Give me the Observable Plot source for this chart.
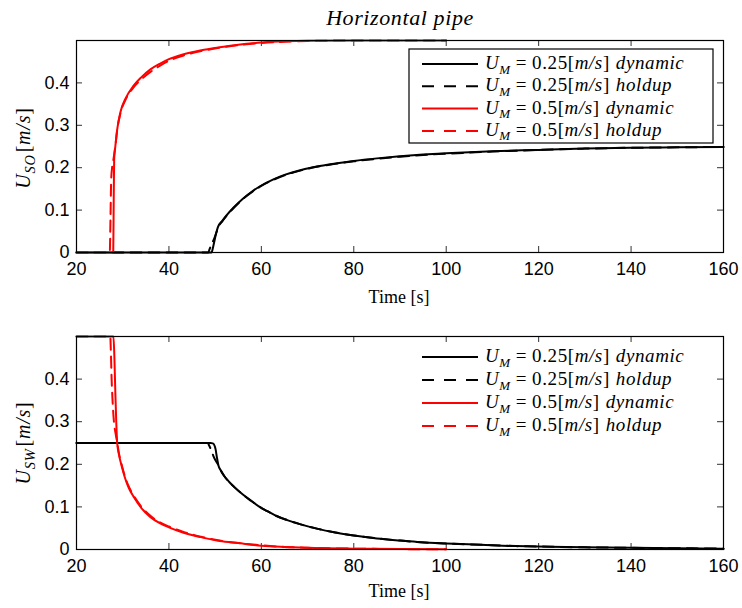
<!DOCTYPE html>
<html><head><meta charset="utf-8">
<script src="https://cdn.jsdelivr.net/npm/d3@7"></script>
<script src="https://cdn.jsdelivr.net/npm/@observablehq/plot@0.6"></script>
<style>
body{margin:0;background:#fff}
#chart{width:742px}
#chart svg{display:block}
</style>
</head><body><div id="chart"></div>
<script>
// ---- ticks ----
const xTicks = [20, 40, 60, 80, 100, 120, 140, 160];
const yTicks = [0, 0.1, 0.2, 0.3, 0.4];
const yTickLabels = ["0", "0.1", "0.2", "0.3", "0.4"];

// ---- legend ----
const legendVel = ["0.25", "0.25", "0.5", "0.5"];
const legendKind = ["dynamic", "holdup", "dynamic", "holdup"];
const legendColor = ["black", "black", "red", "red"];
const legendDashed = [false, true, false, true];

// ---- top panel: U_SO ----
const soBlackDynT = [20, 49.2, 49.6, 50.2, 50.6, 51.5, 52.5, 54, 56, 58, 60, 62.5, 65, 68, 72, 76, 80, 85, 90, 95, 100, 110, 120, 130, 140, 150, 160];
const soBlackDynV = [0, 0, 0.015, 0.045, 0.06, 0.074, 0.088, 0.106, 0.127, 0.144, 0.158, 0.172, 0.183, 0.193, 0.203, 0.210, 0.216, 0.222, 0.227, 0.231, 0.234, 0.239, 0.242, 0.245, 0.247, 0.248, 0.249];
const soBlackHolT = [20, 48.5, 48.8, 49.3, 49.7, 50.2, 50.7, 51.5, 52.5, 54, 56, 58, 60, 62.5, 65, 68, 72, 76, 80, 85, 90, 95, 100, 110, 120, 130, 140, 150, 160];
const soBlackHolV = [0, 0, 0.008, 0.022, 0.03, 0.045, 0.06, 0.073, 0.087, 0.105, 0.126, 0.143, 0.157, 0.171, 0.182, 0.192, 0.202, 0.209, 0.215, 0.221, 0.226, 0.230, 0.233, 0.238, 0.242, 0.245, 0.247, 0.248, 0.249];
const soRedDynT = [20, 27.95, 28.05, 28.15, 28.4, 28.8, 29.5, 30.6, 32.4, 34, 36, 38, 40, 43, 47, 51, 55, 60, 65, 70, 80, 100];
const soRedDynV = [0, 0, 0.12, 0.22, 0.25, 0.29, 0.331, 0.363, 0.394, 0.413, 0.432, 0.445, 0.456, 0.467, 0.477, 0.484, 0.490, 0.495, 0.498, 0.4995, 0.5, 0.5];
const soRedHolT = [20, 27.2, 27.35, 27.5, 27.7, 28.0, 28.4, 28.8, 29.5, 30.6, 32.4, 34, 36, 38, 40, 43, 47, 51, 55, 60, 65, 70, 80, 100];
const soRedHolV = [0, 0, 0.08, 0.17, 0.2, 0.22, 0.25, 0.288, 0.328, 0.36, 0.39, 0.408, 0.426, 0.44, 0.452, 0.464, 0.475, 0.483, 0.489, 0.494, 0.497, 0.499, 0.5, 0.5];

// ---- bottom panel: U_SW ----
const swBlackDynT = [20, 49, 49.5, 49.9, 50.1, 50.4, 50.7, 51.2, 52, 53, 54.1, 56, 57.7, 59.8, 61.3, 63, 65.6, 68.5, 72, 76, 80, 85, 90, 94.5, 100, 107.5, 115, 120, 130, 140, 150, 160];
const swBlackDynV = [0.25, 0.25, 0.249, 0.243, 0.235, 0.215, 0.198, 0.186, 0.172, 0.159, 0.147, 0.129, 0.115, 0.099, 0.09, 0.08, 0.069, 0.059, 0.049, 0.04, 0.033, 0.026, 0.021, 0.017, 0.014, 0.011, 0.008, 0.007, 0.005, 0.004, 0.003, 0.002];
const swBlackHolT = [20, 48.4, 48.7, 49.2, 49.6, 50.2, 50.7, 51.2, 52, 53, 54.1, 56, 57.7, 59.8, 61.3, 63, 65.6, 68.5, 72, 76, 80, 85, 90, 94.5, 100, 107.5, 115, 120, 130, 140, 150, 160];
const swBlackHolV = [0.25, 0.25, 0.244, 0.232, 0.22, 0.207, 0.198, 0.186, 0.172, 0.159, 0.147, 0.129, 0.115, 0.099, 0.09, 0.08, 0.069, 0.059, 0.049, 0.04, 0.033, 0.026, 0.021, 0.017, 0.014, 0.011, 0.008, 0.007, 0.005, 0.004, 0.003, 0.002];
const swRedDynT = [20, 28.0, 28.2, 28.4, 28.6, 28.8, 29.2, 29.8, 30.5, 31.3, 32.4, 34, 36, 38, 40, 43, 46.9, 51, 55, 60, 65, 70, 80, 90, 100];
const swRedDynV = [0.5, 0.5, 0.45, 0.37, 0.3, 0.25, 0.222, 0.195, 0.168, 0.145, 0.123, 0.098, 0.076, 0.062, 0.052, 0.04, 0.029, 0.02, 0.015, 0.009, 0.006, 0.004, 0.002, 0.001, 0.0005];
const swRedHolT = [20, 27.3, 27.45, 27.6, 27.8, 28.1, 28.5, 28.8, 29.2, 29.8, 30.5, 31.3, 32.4, 34, 36, 38, 40, 43, 46.9, 51, 55, 60, 65, 70, 80, 90, 100];
const swRedHolV = [0.5, 0.5, 0.46, 0.4, 0.35, 0.3, 0.27, 0.252, 0.225, 0.198, 0.171, 0.148, 0.126, 0.101, 0.079, 0.064, 0.054, 0.042, 0.03, 0.021, 0.015, 0.01, 0.006, 0.004, 0.002, 0.001, 0.0005];

const rows = (t, v) => t.map((d, i) => ({t: d, v: v[i]}));

const W = 742, ML = 76, MR = 19, TICK = 6;
const SERIF = "'Liberation Serif','DejaVu Serif',serif";
const SANS = "'Liberation Sans',Arial,sans-serif";
const DASH = "11,7";

function panel({height, marginTop, marginBottom, series}) {
  const ph = height - marginTop - marginBottom;
  const pw = W - ML - MR;
  const lineMarks = series.map(s => Plot.line(rows(s.t, s.v), {
    x: "t", y: "v", stroke: s.color, strokeWidth: 2,
    strokeDasharray: s.dashed ? DASH : null, curve: "monotone-x"
  }));
  return Plot.plot({
    width: W, height, marginTop, marginBottom, marginLeft: ML, marginRight: MR,
    style: {background: "white", fontFamily: SANS, color: "black"},
    x: {domain: [20, 160]},
    y: {domain: [0, 0.5]},
    marks: [
      Plot.ruleX(xTicks, {insetTop: ph - TICK, stroke: "#333"}),
      Plot.ruleX(xTicks, {insetBottom: ph - TICK, stroke: "#333"}),
      Plot.ruleY(yTicks, {insetRight: pw - TICK, stroke: "#333"}),
      Plot.ruleY(yTicks, {insetLeft: pw - TICK, stroke: "#333"}),
      ...lineMarks,
      Plot.frame({stroke: "black", strokeWidth: 1.2}),
      Plot.axisX({ticks: xTicks, tickSize: 0, tickPadding: 10, fontSize: 18, fontFamily: SANS, label: null}),
      Plot.axisY({ticks: yTicks, tickSize: 0, tickPadding: 7, fontSize: 18, fontFamily: SANS, label: null,
        tickFormat: d => yTickLabels[yTicks.indexOf(d)]})
    ]
  });
}

function mathLabel(sel, base, sub, fs) {
  sel.append("tspan").attr("font-style", "italic").text(base);
  sel.append("tspan").attr("font-style", "italic").attr("font-size", fs * 0.72).attr("dy", fs * 0.25).text(sub);
  sel.append("tspan").attr("dy", -fs * 0.25).attr("dx", 2).text("[");
  sel.append("tspan").attr("font-style", "italic").text("m/s");
  sel.append("tspan").text("]");
}

function addLegend(svg, ys, box) {
  const g = d3.select(svg).append("g").attr("text-anchor", "start");
  if (box) g.append("rect").attr("x", 409).attr("y", box).attr("width", 304).attr("height", 94)
    .attr("fill", "white").attr("stroke", "black").attr("stroke-width", 1.2);
  const fs = 19;
  ys.forEach((y, i) => {
    g.append("line").attr("x1", 422).attr("x2", 478).attr("y1", y).attr("y2", y)
      .attr("stroke", legendColor[i]).attr("stroke-width", 2)
      .attr("stroke-dasharray", legendDashed[i] ? "12,10" : null);
    const t = g.append("text").attr("x", 485).attr("y", y + 5).attr("text-anchor", "start")
      .attr("font-family", SERIF).attr("font-size", fs).attr("letter-spacing", 0.6).attr("fill", "black");
    t.append("tspan").attr("font-style", "italic").text("U");
    t.append("tspan").attr("font-style", "italic").attr("font-size", 13).attr("dy", 4.5).text("M");
    t.append("tspan").attr("dy", -4.5).attr("dx", 5).text("=");
    t.append("tspan").attr("dx", 5).text(legendVel[i] + "[");
    t.append("tspan").attr("font-style", "italic").text("m/s");
    t.append("tspan").text("]");
    t.append("tspan").attr("font-style", "italic").attr("dx", 6).text(legendKind[i]);
  });
}

function addAxisLabels(svg, yLabelSub, yCenter, xBase) {
  const s = d3.select(svg);
  const fs = 20;
  const yl = s.append("text").attr("transform", `translate(30,${yCenter}) rotate(-90)`)
    .attr("text-anchor", "middle").attr("font-family", SERIF).attr("font-size", fs)
    .attr("letter-spacing", 0.8).attr("fill", "black");
  mathLabel(yl, "U", yLabelSub, fs);
  s.append("text").attr("x", 399).attr("y", xBase).attr("text-anchor", "middle")
    .attr("font-family", SERIF).attr("font-size", 18).attr("fill", "black").text("Time [s]");
}

const topSvg = panel({height: 310, marginTop: 40, marginBottom: 58, series: [
  {t: soBlackDynT, v: soBlackDynV, color: "black", dashed: false},
  {t: soBlackHolT, v: soBlackHolV, color: "black", dashed: true},
  {t: soRedDynT, v: soRedDynV, color: "red", dashed: false},
  {t: soRedHolT, v: soRedHolV, color: "red", dashed: true}
]});
d3.select(topSvg).append("text").attr("x", 400).attr("y", 25).attr("text-anchor", "middle")
  .attr("font-family", SERIF).attr("font-style", "italic").attr("font-size", 22)
  .attr("letter-spacing", 0.6).attr("fill", "black").text("Horizontal pipe");
addLegend(topSvg, [64, 86.3, 108.6, 130.9], 49);
addAxisLabels(topSvg, "SO", 148, 303);

const bottomSvg = panel({height: 298, marginTop: 26, marginBottom: 59, series: [
  {t: swBlackDynT, v: swBlackDynV, color: "black", dashed: false},
  {t: swBlackHolT, v: swBlackHolV, color: "black", dashed: true},
  {t: swRedDynT, v: swRedDynV, color: "red", dashed: false},
  {t: swRedHolT, v: swRedHolV, color: "red", dashed: true}
]});
addLegend(bottomSvg, [47, 70, 93, 116], null);
addAxisLabels(bottomSvg, "SW", 133, 287);

document.getElementById("chart").append(topSvg, bottomSvg);
</script>
</body></html>
